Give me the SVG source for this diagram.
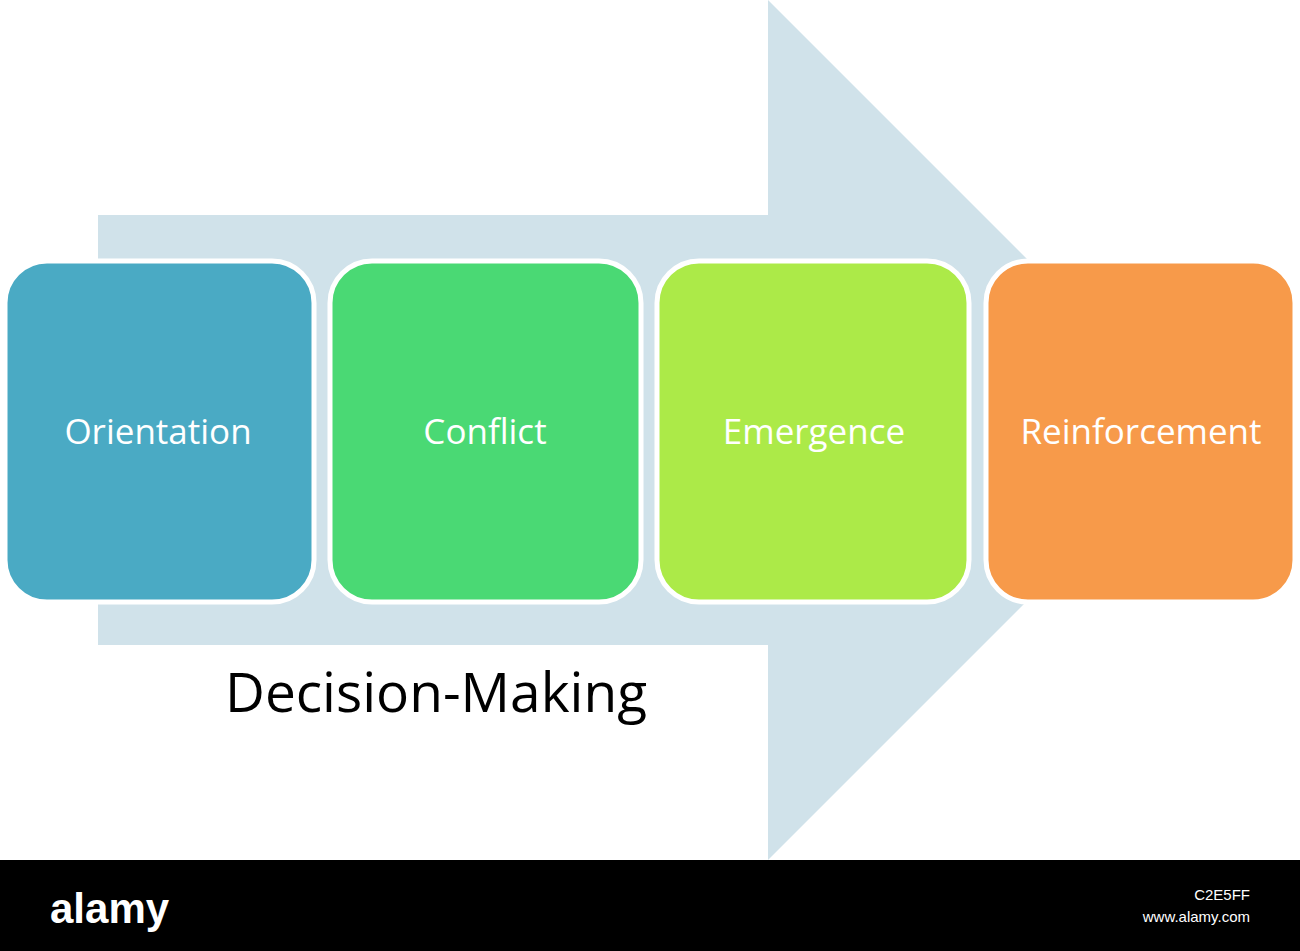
<svg xmlns="http://www.w3.org/2000/svg" width="1300" height="951" viewBox="0 0 1300 951">
<style>
.box{stroke:#fff;stroke-width:5}
.lbl{font-family:"Open Sans","Liberation Sans",sans-serif;font-size:35px;fill:#fff;text-anchor:middle}
</style>
<rect width="1300" height="951" fill="#fff"/>
<g id="connectors">
<polygon id="arrow" points="98,215 768,215 768,0 1198,430 768,860 768,645 98,645" fill="#d0e2ea"/>
</g>
<g id="n1"><rect class="box" x="5" y="261" width="309" height="341" rx="42" fill="#4aaac4"/><text class="lbl" x="158" y="444">Orientation</text></g>
<g id="n2"><rect class="box" x="330" y="261" width="311" height="341" rx="42" fill="#4ad974"/><text class="lbl" x="485" y="444">Conflict</text></g>
<g id="n3"><rect class="box" x="657" y="261" width="312" height="341" rx="42" fill="#acea48"/><text class="lbl" x="814" y="444">Emergence</text></g>
<g id="n4"><rect class="box" x="986" y="261" width="309" height="341" rx="42" fill="#f79a4a"/><text class="lbl" x="1141" y="444">Reinforcement</text></g>
<text x="436" y="712" font-family="'Open Sans','Liberation Sans',sans-serif" font-size="55" text-anchor="middle" fill="#000">Decision-Making</text>
<rect x="0" y="860" width="1300" height="91" fill="#000"/>
<text x="50" y="923" font-family="'Liberation Sans',sans-serif" font-weight="bold" font-size="42" fill="#fff">alamy</text>
<text x="1250" y="900" font-family="'Liberation Sans',sans-serif" font-size="15" fill="#fff" text-anchor="end">C2E5FF</text>
<text x="1250" y="922" font-family="'Liberation Sans',sans-serif" font-size="15" fill="#fff" text-anchor="end">www.alamy.com</text>
</svg>
